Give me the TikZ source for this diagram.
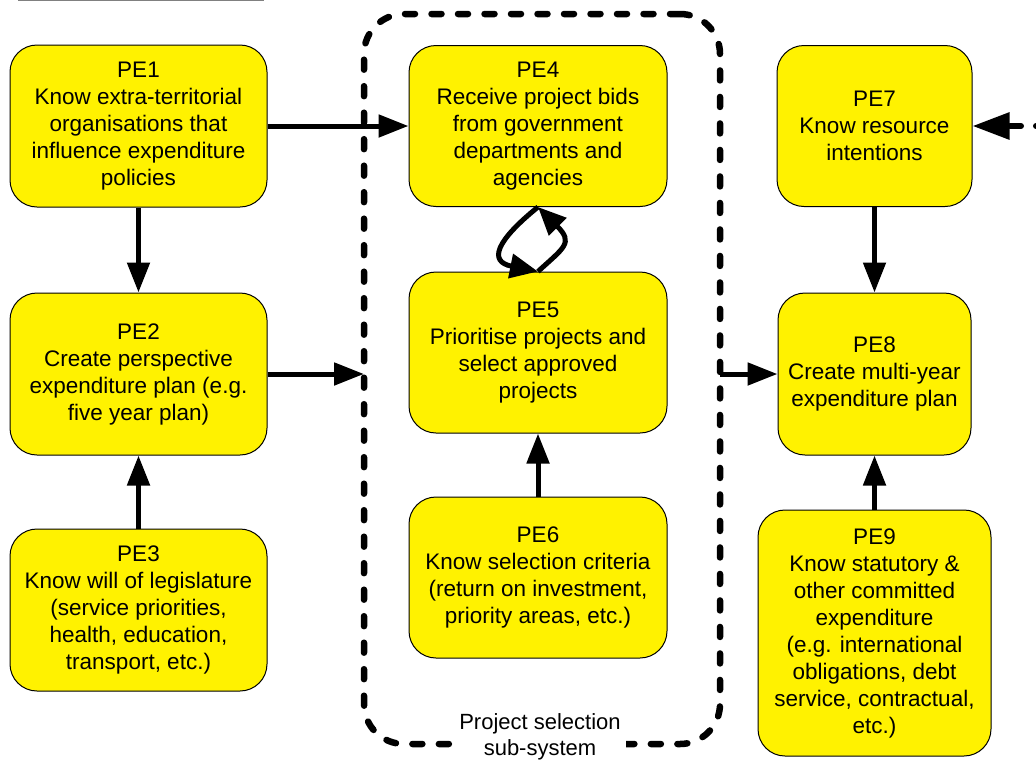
\documentclass[tikz,border=0pt]{standalone}
\usepackage{fontspec}
\setmainfont{Liberation Sans}
\usetikzlibrary{arrows.meta}

\tikzset{
  pebox/.style={draw=black, line width=1pt, fill=yellow, rounded corners=27pt,
    inner sep=0pt, align=center, font=\fontsize{22.5}{27}\selectfont,
    minimum width=257pt, minimum height=162pt},
  flow/.style={line width=5pt, -{Triangle[length=30pt,width=22pt]}},
  loopflow/.style={line width=5pt, -{Triangle[length=28pt,width=24pt]}},
  extflow/.style={line width=6pt, line cap=round, dash pattern=on 11pt off 15pt,
    -{Triangle[length=37pt,width=26pt]}},
  subsys/.style={draw, line width=6.5pt, line cap=round, dash pattern=on 10pt off 16.5pt,
    rounded corners=40pt, outer sep=0pt}
}

\begin{document}
\begin{tikzpicture}[x=1pt,y=-1pt]
        \useasboundingbox (0,0) rectangle (1036,761);
        \draw[gray, line width=1.5pt] (18,0.5) -- (264,0.5);
        % project selection sub-system
        \node[subsys, minimum width=356pt, minimum height=730pt] (psub) at (542,379) {};
        \node[fill=white, inner sep=5pt, align=center, font=\fontsize{22}{26}\selectfont]
            (psublbl) at (540,737) {Project selection\\sub-system};
        % left column
        \node[pebox] (pe1) at (138.5,126) {PE1\\Know extra-territorial\\organisations that\\influence expenditure\\policies};
        \node[pebox] (pe2) at (138.5,374) {PE2\\Create perspective\\expenditure plan (e.g.\\five year plan)};
        \node[pebox] (pe3) at (138.5,610) {PE3\\Know will of legislature\\(service priorities,\\health, education,\\transport, etc.)};
        % middle column
        \node[pebox, minimum width=258pt, minimum height=161pt] (pe4) at (538,126) {PE4\\Receive project bids\\from government\\departments and\\agencies};
        \node[pebox, minimum width=258pt, minimum height=161pt] (pe5) at (538,352.5) {PE5\\Prioritise projects and\\select approved\\projects};
        \node[pebox, minimum width=258pt, minimum height=161pt] (pe6) at (538,577.5) {PE6\\Know selection criteria\\(return on investment,\\priority areas, etc.)};
        % right column
        \node[pebox, minimum width=195pt, minimum height=161pt] (pe7) at (874.5,126) {PE7\\Know resource\\intentions};
        \node[pebox, minimum width=193pt] (pe8) at (874.5,374) {PE8\\Create multi-year\\expenditure plan};
        \node[pebox, minimum width=233pt, minimum height=246pt] (pe9) at (874.5,633) {PE9\\Know statutory \&\\other committed\\expenditure\\(e.g. international\\obligations, debt\\service, contractual,\\etc.)};
        \coordinate (pe7src) at (1047,126);

        \draw[flow] (pe1.east) -- (pe4.west);
        \draw[flow] (pe1.south) -- (pe2.north);
        \draw[flow] (pe3.north) -- (pe2.south);
        \draw[flow] (pe2.east) -- (pe2.east -| psub.west);
        \draw[flow] (pe6.north) -- (pe5.south);
        % loop between PE4 and PE5 (y runs downwards)
        \draw[loopflow] (pe4.south) .. controls +(-42,34) and +(-50,-10) .. (pe5.north);
        \draw[loopflow] (pe5.north) .. controls +(26,-24) and +(36,36) .. (pe4.south);
        \draw[flow] (pe8.west -| psub.east) -- (pe8.west);
        \draw[flow] (pe7.south) -- (pe8.north);
        \draw[flow] (pe9.north) -- (pe8.south);
        \draw[extflow] (pe7src) -- (pe7.east);
\end{tikzpicture}
\end{document}
